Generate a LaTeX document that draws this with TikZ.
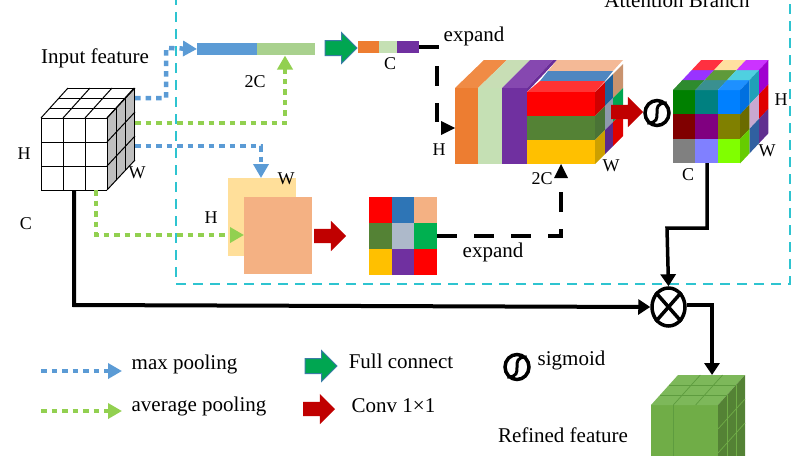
\documentclass[tikz,border=0pt]{standalone}
\usepackage{fontspec}
\setmainfont{Liberation Serif}
\usetikzlibrary{arrows.meta,shapes.geometric,shapes.arrows}
\definecolor{cy}{HTML}{2EC4D0}
\definecolor{bluedot}{HTML}{5B9BD5}
\definecolor{greendot}{HTML}{92D050}
\definecolor{fcgreen}{HTML}{00A651}
\definecolor{fcedge}{HTML}{3A7CA5}
\definecolor{convred}{HTML}{C00000}
\newcommand\hexfill[5]{\definecolor{qc}{HTML}{#1}\fill[qc] (#2) -- (#3) -- (#4) -- (#5) -- cycle;}
\newcommand\frontcell[5]{\definecolor{qc}{HTML}{#1}\fill[qc] (#2,#3) rectangle (#2+#4,#3+#5);}
\newcommand\topcell[6]{\definecolor{qc}{HTML}{#1}\fill[qc] (#2,#3) -- (#2+#4,#3) -- (#2+#4+#5,#3+#6) -- (#2+#5,#3+#6) -- cycle;}
\newcommand\sidecell[6]{\definecolor{qc}{HTML}{#1}\fill[qc] (#2,#3) -- (#2+#5,#3+#6) -- (#2+#5,#3+#6+#4) -- (#2,#3+#4) -- cycle;}
\tikzset{
 lbl/.style={anchor=base,inner sep=0,font=\fontsize{18}{18}\selectfont},
 txt/.style={anchor=base,inner sep=0,font=\fontsize{21}{21}\selectfont},
 swatch/.style={anchor=north west,inner sep=0,outer sep=0},
 maxdot/.style={draw=bluedot,line width=4.5pt,dash pattern=on 5.5pt off 5pt,-{Triangle[length=14pt,width=15pt]}},
 avgdot/.style={draw=greendot,line width=4.5pt,dash pattern=on 5.5pt off 5pt,-{Triangle[length=14pt,width=15pt]}},
 expline/.style={draw=black,line width=3.5pt,dash pattern=on 20pt off 17pt},
 solidline/.style={draw=black,line width=3.5pt,-{Triangle[length=12pt,width=15pt]}},
 blockarrow/.style={single arrow,inner sep=7pt,outer sep=0,single arrow head extend=8pt,minimum height=32pt,anchor=tip},
 fcarrow/.style={blockarrow,fill=fcgreen,draw=fcedge,line width=1pt},
 convarrow/.style={blockarrow,fill=convred},
 sigring/.style={ellipse,draw=black,line width=3.5pt,inner sep=0,minimum width=24pt,minimum height=25pt},
}
\begin{document}
\begin{tikzpicture}[x=1pt,y=-1pt]
\useasboundingbox (0,0) rectangle (808,455);
% attention branch frame
\coordinate (frTL) at (176,-5);
\coordinate (frBL) at (176,284);
\coordinate (frBR) at (790,284);
\coordinate (frTR) at (790,-5);
\draw[cy,line width=1.6pt,dash pattern=on 10pt off 7pt] (frTL) -- (frBL) -- (frBR) -- (frTR);
\node[txt] (attn) at (677,7) {Attention Branch};

% input cube
\fill[white] (41,118) rectangle (107,190);
\fill[white] (41,118) -- (68,88) -- (135,88) -- (107,118) -- cycle;
\fill[black!25] (107,118) -- (135,88) -- (135,160) -- (107,190) -- cycle;
\foreach \k in {0,1,2,3} {
  \draw[line width=1pt] (41+22*\k,118) -- (41+22*\k,190);
  \draw[line width=1pt] (41,118+24*\k) -- (107,118+24*\k);
  \draw[line width=1pt] (41+22*\k,118) -- (41+22*\k+27,88);
  \draw[line width=1pt] (41+9*\k,118-10*\k) -- (107+9.3*\k,118-10*\k);
  \draw[line width=1pt] (107+9.3*\k,118-10*\k) -- (107+9.3*\k,190-10*\k);
  \draw[line width=1pt] (107,118+24*\k) -- (135,88+24*\k);
}
\coordinate (inA) at (135,98);
\coordinate (inB) at (135,123);
\coordinate (inC) at (135,146);
\coordinate (inD) at (96,190);
\coordinate (inE) at (74,190);
\node[txt] (inlab) at (95,63) {Input feature};
\node[lbl] (inH) at (24,159) {H};
\node[lbl] (inW) at (137,178) {W};
\node[lbl] (inCl) at (26,229) {C};

% long bar
\node[swatch,fill=bluedot,minimum width=60pt,minimum height=12pt] (barA) at (197,43) {};
\node[swatch,fill={rgb,255:red,169;green,209;blue,142},minimum width=58pt,minimum height=12pt] (barB) at (257,43) {};
\node[lbl] (twoC) at (255,87) {2C};
\node[fcarrow] (fc) at (357,48) {};

% small bar
\node[swatch,fill={rgb,255:red,237;green,125;blue,49},minimum width=21pt,minimum height=12pt] (sbA) at (358,41) {};
\node[swatch,fill={rgb,255:red,197;green,224;blue,180},minimum width=18pt,minimum height=12pt] (sbB) at (379,41) {};
\node[swatch,fill={rgb,255:red,112;green,48;blue,160},minimum width=22pt,minimum height=12pt] (sbC) at (397,41) {};
\node[lbl] (sbl) at (390,69) {C};
\node[txt] (exA) at (474,41) {expand};

% feature squares
\node[swatch,fill={rgb,255:red,255;green,223;blue,154},minimum width=68pt,minimum height=78pt] (sqY) at (228,178) {};
\node[swatch,fill={rgb,255:red,244;green,177;blue,131},minimum width=68pt,minimum height=77pt] (sqO) at (244,197) {};
\node[lbl] (sqW) at (286,184) {W};
\node[lbl] (sqH) at (211,223) {H};
\node[convarrow] (cvA) at (346,236) {};

% colour grid
\foreach \h [count=\i from 0] in {FF0000,2E75B6,F4B183,548235,ADB9CA,00B050,FFC000,7030A0,FF0000} {
  \pgfmathsetmacro\cx{369+22.7*mod(\i,3)}
  \pgfmathsetmacro\cy{197+26*floor(\i/3)}
  \frontcell{\h}{\cx}{\cy}{22.9}{26.2}
}
\node[swatch,minimum width=68pt,minimum height=78pt] (grid) at (369,197) {};
\node[txt] (exB) at (493,257) {expand};

% stacked block
\hexfill{F08B45}{455,88}{478,88}{507,60}{484,60}
\hexfill{C8DEB5}{478,88}{502,88}{530,60}{507,60}
\hexfill{8648B0}{502,88}{527,88}{553,60}{530,60}
\hexfill{6A2D99}{527,88}{553,60}{557,60}{527,92}
\node[swatch,fill={rgb,255:red,237;green,125;blue,49},minimum width=23pt,minimum height=76pt] (orF) at (455,88) {};
\node[swatch,fill={rgb,255:red,197;green,224;blue,180},minimum width=24pt,minimum height=76pt] (grF) at (478,88) {};
\node[swatch,fill={rgb,255:red,112;green,48;blue,160},minimum width=25pt,minimum height=76pt] (puF) at (502,88) {};
\hexfill{F4B996}{548,71}{613,71}{623,60}{557,60}
\hexfill{4F86C0}{540,81}{605,81}{613,71}{548,71}
\hexfill{FF3333}{527,92}{595,92}{605,81}{540,81}
\node[swatch,fill=red,minimum width=68pt,minimum height=24pt] (blR) at (527,92) {};
\node[swatch,fill={rgb,255:red,84;green,130;blue,53},minimum width=68pt,minimum height=24pt] (blG) at (527,116) {};
\node[swatch,fill={rgb,255:red,255;green,192;blue,0},minimum width=68pt,minimum height=24pt] (blY) at (527,140) {};
\sidecell{D00000}{595}{92}{24}{10}{-10}
\sidecell{4A7336}{595}{116}{24}{10}{-10}
\sidecell{CCA000}{595}{140}{24}{10}{-10}
\sidecell{1F5F9A}{605}{82}{24}{8}{-8}
\sidecell{8E9AAD}{605}{106}{24}{8}{-8}
\sidecell{5B2A8C}{605}{130}{24}{8}{-8}
\sidecell{C9936E}{613}{74}{24}{10}{-10}
\sidecell{00A651}{613}{98}{24}{10}{-10}
\sidecell{E00000}{613}{122}{24}{10}{-10}
\node[lbl] (stH) at (439,155) {H};
\node[lbl] (st2C) at (542,184) {2C};
\node[lbl] (stW) at (611,171) {W};
\node[convarrow] (cvB) at (643,112) {};

% sigmoid
\node[sigring] (sg) at (657,113) {};
\draw[line width=3pt] (sg.south west) .. controls +(20,0) and +(-20,0) .. (sg.north east);

% attention cube
\foreach \h [count=\i from 0] in {008000,008080,0080FF,800000,800080,808000,808080,8080FF,80FF00} {
  \pgfmathsetmacro\cx{673+22.4*mod(\i,3)}
  \pgfmathsetmacro\cy{90+24.4*floor(\i/3)}
  \frontcell{\h}{\cx}{\cy}{22.5}{24.5}
}
\foreach \h [count=\i from 0] in {2E8B2E,3A9090,1E90FF,9933FF,5F9A3A,4FD0E0,FF3040,FFE0A0,CC33FF} {
  \pgfmathsetmacro\cx{673+22.4*mod(\i,3)+9.4*floor(\i/3)}
  \pgfmathsetmacro\cy{90-10*floor(\i/3)}
  \topcell{\h}{\cx}{\cy}{22.5}{9.4}{-10}
}
\foreach \h [count=\i from 0] in {0070E0,20A0B8,A000D0,6B6B00,C8A8D0,E00000,66CC00,3060A0,603090} {
  \pgfmathsetmacro\cx{740.2+9.4*mod(\i,3)}
  \pgfmathsetmacro\cy{90+24.4*floor(\i/3)-10*mod(\i,3)}
  \sidecell{\h}{\cx}{\cy}{24.5}{9.4}{-10}
}
\node[swatch,minimum width=67pt,minimum height=73pt] (acube) at (673,90) {};
\coordinate (acOut) at (707,163);
\coordinate (acBend) at (707,228);
\node[lbl] (acH) at (781,105) {H};
\node[lbl] (acW) at (767,156) {W};
\node[lbl] (acC) at (688,180) {C};

% multiply
\node[ellipse,draw=black,line width=3.5pt,inner sep=0,minimum width=33pt,minimum height=38pt] (mul) at (668.5,307) {};
\draw[line width=3.5pt] (mul.north west) -- (mul.south east);
\draw[line width=3.5pt] (mul.north east) -- (mul.south west);

% refined cube
\definecolor{rfF}{HTML}{70AD47}\definecolor{rfT}{HTML}{7DB85A}\definecolor{rfS}{HTML}{548235}\definecolor{rfL}{HTML}{5E9C3F}
\fill[rfF] (651,405) rectangle (718,470);
\fill[rfT] (651,405) -- (678,375) -- (745,375) -- (718,405) -- cycle;
\fill[rfS] (718,405) -- (745,375) -- (745,470) -- (718,470) -- cycle;
\foreach \k in {1,2} {
  \draw[rfL,line width=.7pt] (651+22.3*\k,405) -- (651+22.3*\k+27,375);
  \draw[rfL,line width=.7pt] (651+9*\k,405-10*\k) -- (718+9*\k,405-10*\k);
  \draw[rfF,line width=.7pt] (718+9*\k,405-10*\k) -- (718+9*\k,470);
  \draw[rfF,line width=.7pt] (718,405+24*\k) -- (745,375+24*\k);
}
\draw[rfL,line width=.7pt] (673.3,405) -- (673.3,470);
\node[swatch,minimum width=67pt,minimum height=50pt] (rcube) at (651,405) {};
\coordinate (rcTop) at (712,375);
\node[txt] (rflab) at (563,442) {Refined feature};

% connectors
\coordinate (b1a) at (166,98);
\coordinate (b1b) at (166,48);
\draw[maxdot] (inA) -- (b1a) -- (b1b) -- (barA.west);
\coordinate (g1a) at (285,123);
\coordinate (g1b) at (285,55.5);
\draw[avgdot] (inB) -- (g1a) -- (g1b);
\coordinate (b2a) at (261,146);
\coordinate (b2b) at (261,178);
\draw[maxdot] (inC) -- (b2a) -- (b2b);
\coordinate (g2a) at (96,235);
\coordinate (g2b) at (244,235);
\draw[avgdot] (inD) -- (g2a) -- (g2b);
\coordinate (e1a) at (437,47);
\coordinate (e1b) at (437,122);
\coordinate (e1c) at (455,128);
\draw[expline] (sbC.east) -- (e1a) -- (e1b);
\fill (e1c) -- ++(-14,-7) -- ++(0,14) -- cycle;
\coordinate (e2a) at (561,236);
\coordinate (e2b) at (561,178);
\coordinate (e2c) at (561,164);
\draw[expline] (grid.east) -- (e2a) -- (e2b);
\fill (e2c) -- ++(-7,14) -- ++(14,0) -- cycle;
\coordinate (m1a) at (74,305);
\draw[draw=black,line width=4pt,-{Triangle[length=12pt,width=15pt]}] (inE) -- (m1a) -- (mul.west);
\coordinate (m2a) at (667,228);
\draw[solidline] (acOut) -- (acBend) -- (m2a) -- (mul.north);
\coordinate (m3a) at (712,305);
\draw[solidline] (mul.east|-m3a) -- (m3a) -- (rcTop);

% legend
\coordinate (l1a) at (41,371);\coordinate (l1b) at (122,371);
\draw[maxdot] (l1a) -- (l1b);
\coordinate (l2a) at (41,411);\coordinate (l2b) at (122,411);
\draw[avgdot] (l2a) -- (l2b);
\node[txt] (l1t) at (184.5,369) {max pooling};
\node[txt] (l2t) at (199,411) {average pooling};
\node[fcarrow] (l3a) at (337,366) {};
\node[convarrow] (l4a) at (335,409) {};
\node[txt] (l3t) at (401,368) {Full connect};
\node[txt] (l4t) at (393.5,412) {Conv 1×1};
\node[sigring] (l5a) at (517,367) {};
\draw[line width=3pt] (l5a.south west) .. controls +(20,0) and +(-20,0) .. (l5a.north east);
\node[txt] (l5t) at (571.5,365) {sigmoid};
\end{tikzpicture}
\end{document}
